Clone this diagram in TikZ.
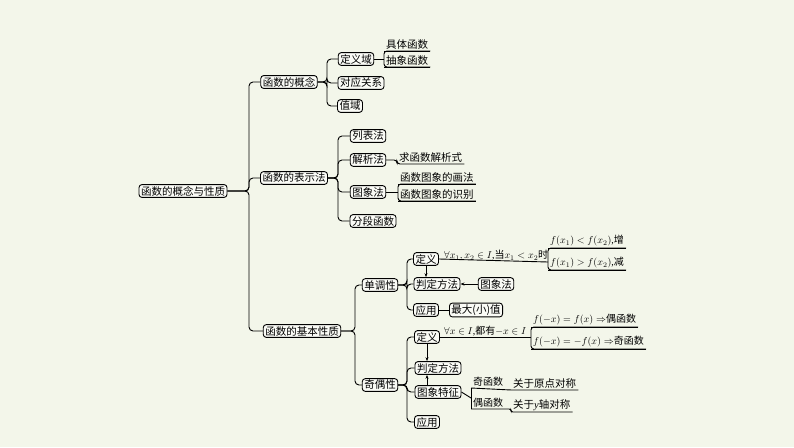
\documentclass[tikz,border=0pt]{standalone}
\usepackage{fontspec}
\setmainfont{Liberation Serif}
\newfontfamily\cjk{Noto Sans CJK SC}
\usetikzlibrary{arrows.meta}
\definecolor{bg}{HTML}{F3F6EA}
\tikzset{
  bx/.style={draw, line width=0.9pt, rounded corners=3pt, fill=white!55!bg, inner xsep=2pt, inner ysep=1.5pt, font=\cjk\fontsize{10.5}{12}\selectfont},
  ul/.style={inner xsep=2pt, inner ysep=1.5pt, anchor=south west, font=\cjk\fontsize{10.5}{12}\selectfont},
  conn/.style={line width=0.9pt, rounded corners=4pt},
  arr/.style={line width=0.8pt, -{Stealth[length=4pt,width=3pt]}}
}
\newcommand{\uline}[1]{\draw[line width=0.9pt] (#1.south west) -- (#1.south east);}
\newcommand{\brk}[2]{\draw[conn,rounded corners=3pt] (#1.south east) -- (#1.south west) -- (#2.south west) -- (#2.south east);}
\begin{document}
\begin{tikzpicture}[x=1pt,y=-1pt]
\fill[bg] (0,0) rectangle (794,447);
\useasboundingbox (0,0) rectangle (794,447);
% root and level 1
\node[bx] (root) at (183,191) {函数的概念与性质};
\node[bx] (gn) at (289,82) {函数的概念};
\node[bx] (bs) at (294,178) {函数的表示法};
\node[bx] (xz) at (302,331) {函数的基本性质};
\foreach \c in {gn,bs,xz} \draw[conn] (root.east) -- (249,191) |- (\c.west);
% concept
\node[bx] (dyy) at (356,59) {定义域};
\node[bx] (dygx) at (361,83) {对应关系};
\node[bx] (zy) at (350,106) {值域};
\foreach \c in {dyy,dygx,zy} \draw[conn] (gn.east) -- (327,82) |- (\c.west);
\node[ul] (jt) at (384,51) {具体函数}; \uline{jt}
\node[ul] (cx) at (384,67) {抽象函数}; \uline{cx}
\brk{jt}{cx}
\draw[conn] (dyy.east) -- (384,59);
% representation
\node[bx] (lb) at (368,136) {列表法};
\node[bx] (jx) at (368,160) {解析法};
\node[bx] (tx) at (368,192) {图象法};
\node[bx] (fd) at (373,221) {分段函数};
\foreach \c in {lb,jx,tx,fd} \draw[conn] (bs.east) -- (338,178) |- (\c.west);
\node[ul] (qj) at (397,164) {求函数解析式};
\draw[conn,rounded corners=3pt] (jx.east) -- (397,160) -- (397,164) -- (qj.south east);
\node[ul] (hf) at (398,184) {函数图象的画法}; \uline{hf}
\node[ul] (sb) at (398,201) {函数图象的识别}; \uline{sb}
\brk{hf}{sb}
\draw[conn] (tx.east) -- (398,192);
% properties
\node[bx] (dd) at (380,285) {单调性};
\node[bx] (jo) at (380,385) {奇偶性};
\foreach \c in {dd,jo} \draw[conn] (xz.east) -- (355,331) |- (\c.west);
\node[bx] (d1) at (426,259) {定义};
\node[bx] (p1) at (437,284) {判定方法};
\node[bx] (y1) at (426,310) {应用};
\foreach \c in {d1,p1,y1} \draw[conn] (dd.east) -- (407,285) |- (\c.west);
\node[anchor=south west, inner sep=1pt, font=\fontsize{10}{12}\selectfont] (t1) at (443,262) {$\forall x_1,x_2\in I$,{\cjk 当}$x_1<x_2${\cjk 时}};
\node[ul, font=\fontsize{10}{12}\selectfont] (z1) at (548,248) {$f(x_1)<f(x_2)$,{\cjk 增}}; \uline{z1}
\node[ul, font=\fontsize{10}{12}\selectfont] (j1) at (548,270) {$f(x_1)>f(x_2)$,{\cjk 减}}; \uline{j1}
\brk{z1}{j1}
\draw[conn] (d1.east) -- (548,262);
\draw[arr] (d1.south) -- (p1.north -| d1.south);
\node[bx] (tf) at (496,284) {图象法};
\draw[arr] (tf.west) -- (p1.east);
\node[bx] (zd) at (476,310) {最大(小)值};
\draw[conn] (y1.east) -- (zd.west);
\node[bx] (d2) at (427,337) {定义};
\node[bx] (p2) at (438,368) {判定方法};
\node[bx] (tz) at (438,392) {图象特征};
\node[bx] (y2) at (427,422) {应用};
\foreach \c in {d2,p2,tz,y2} \draw[conn] (jo.east) -- (407,385) |- (\c.west);
\node[anchor=south west, inner sep=1pt, font=\fontsize{10}{12}\selectfont] (t2) at (443,337) {$\forall x\in I$,{\cjk 都有}$-x\in I$};
\node[ul, font=\fontsize{10}{12}\selectfont] (o2) at (531,327) {$f(-x)=f(x)\Rightarrow${\cjk 偶函数}}; \uline{o2}
\node[ul, font=\fontsize{10}{12}\selectfont] (q2) at (531,349) {$f(-x)=-f(x)\Rightarrow${\cjk 奇函数}}; \uline{q2}
\brk{o2}{q2}
\draw[conn] (d2.east) -- (531,337);
\draw[arr] (d2.south) -- (p2.north -| d2.south);
\draw[arr] (tz.north -| d2.south) -- (p2.south -| d2.south);
\node[ul, font=\cjk\fontsize{10}{12}\selectfont] (qh) at (471,388) {奇函数};
\node[ul, font=\cjk\fontsize{10}{12}\selectfont] (oh) at (471,409) {偶函数};
\node[ul] (yd) at (511,390) {关于原点对称};
\node[ul] (yz) at (511,412) {关于{\fontspec{Liberation Serif}\itshape y}轴对称};
\draw[conn,rounded corners=2pt] (qh.south west) -- (yd.south west) -- (yd.south east);
\draw[conn,rounded corners=2pt] (oh.south west) -- (yz.south west |- oh.south) -- (yz.south west) -- (yz.south east);
\draw[conn,rounded corners=3pt] (qh.south west) -- (oh.south west);
\draw[conn] (tz.east) -- (471,398);
\end{tikzpicture}
\end{document}
